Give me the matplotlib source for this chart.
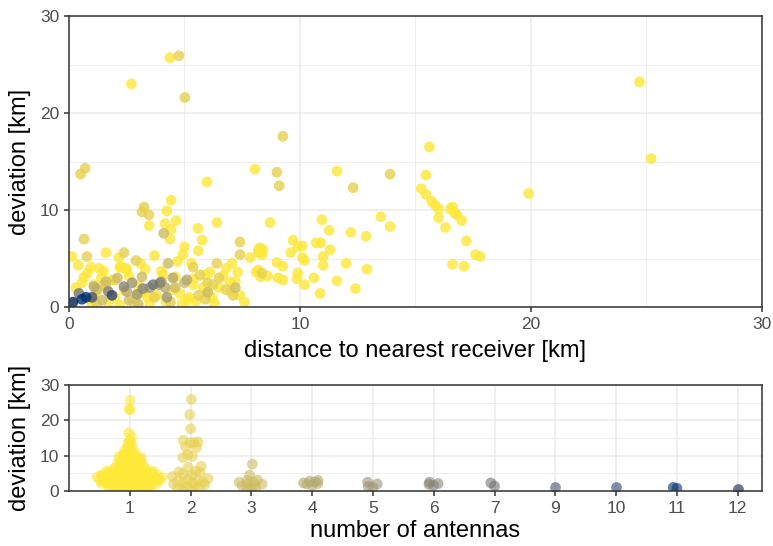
import numpy as np
import matplotlib
matplotlib.use("Agg")
import matplotlib.pyplot as plt
from matplotlib import colors

plt.rcParams['font.family'] = ['Liberation Sans', 'DejaVu Sans']

# distance to nearest receiver [km] / deviation [km], grouped by number of antennas
dist_1 = [4.37, 2.7, 15.6, 8.05, 11.6, 15.45, 5.97, 15.25, 19.9, 24.7, 25.2, 15.45, 15.7, 15.85,
          16.0, 16.0, 16.3, 16.5, 16.6, 16.7, 16.8, 17.0, 17.2, 17.6, 17.8, 16.6, 17.1,
          4.42, 4.24, 3.47, 4.63, 4.16, 4.42, 4.37, 5.58, 5.76, 6.4, 0.13, 1.6, 2.16, 2.2,
          2.5, 3.1, 0.95, 1.3, 2.25, 2.47, 0.65, 1.4, 1.86, 0.56, 1.08, 3.25, 2.9, 3.4,
          4.93, 7.84, 8.2, 5.3, 7.06, 7.3, 8.1, 4.07, 4.6, 5.9, 6.67, 6.97, 7.2, 5.37, 4.8,
          6.0, 5.15, 6.3, 7.6,
          8.7, 10.95, 11.26, 12.2, 12.86, 8.27, 8.4, 8.2, 8.35, 9.7, 9.9, 10.1, 9.6, 10.7,
          10.9, 11.3, 10.1, 10.2, 11.0, 11.0, 9.0, 9.26, 12.0, 12.9, 9.05, 9.26, 9.9, 9.87,
          10.6, 10.2, 11.6, 12.4, 10.87, 13.5, 13.9, 8.6, 8.3, 8.2,
          0.3, 0.9, 1.2, 1.7, 2.0, 2.4, 2.8, 3.0, 3.5, 3.8, 4.2, 4.5, 4.9, 5.2, 5.5, 5.8,
          6.2, 6.5, 7.0, 7.4, 0.8, 1.5, 2.6, 3.3, 4.0, 4.7, 5.4, 6.1, 6.8, 0.4, 5.0, 5.6,
          3.7, 1.0, 2.2]
dev_1 = [25.7, 23.0, 16.5, 14.2, 14.0, 13.6, 12.9, 12.2, 11.7, 23.2, 15.3, 11.6, 10.9, 10.5,
         10.1, 9.2, 8.2, 10.1, 10.3, 9.7, 9.5, 8.9, 6.8, 5.4, 5.2, 4.4, 4.2,
         11.0, 9.9, 8.4, 8.9, 8.6, 8.0, 7.0, 8.1, 6.9, 8.7, 5.2, 5.6, 5.1, 4.1,
         3.8, 4.5, 4.1, 4.0, 4.1, 4.0, 3.1, 3.0, 2.8, 2.5, 2.3, 1.5, 1.2, 1.0,
         5.4, 5.1, 5.9, 4.5, 4.5, 3.6, 3.6, 3.3, 3.1, 3.3, 3.2, 2.6, 2.6, 2.3, 1.4,
         1.5, 0.7, 0.4, 0.5,
         8.7, 9.0, 7.9, 7.7, 7.3, 6.1, 5.9, 5.6, 5.4, 6.9, 6.2, 6.3, 5.6, 6.6,
         6.6, 5.9, 5.1, 4.8, 5.2, 4.3, 4.6, 4.2, 4.5, 3.9, 3.0, 2.8, 3.5, 2.9,
         3.0, 2.3, 2.7, 1.9, 1.4, 9.3, 8.3, 3.2, 3.1, 3.8,
         2.0, 0.8, 1.5, 0.5, 1.0, 1.7, 0.5, 2.2, 0.4, 1.2, 0.6, 1.8, 0.4, 1.0, 0.6, 2.0,
         1.0, 2.0, 1.6, 1.2, 3.5, 3.7, 3.2, 3.9, 3.7, 4.7, 2.9, 3.6, 4.0, 4.3, 6.2, 5.8,
         5.3, 0.3, 0.2]

dist_2 = [4.76, 5.02, 9.26, 0.5, 0.7, 9.0, 9.1, 12.3, 13.9, 3.25, 3.16, 3.46, 0.65, 7.4, 7.4,
          2.38, 2.9, 5.37, 6.4, 5.67, 6.0, 6.23, 6.8, 7.1, 8.35, 1.5, 1.6, 5.6, 0.78, 3.7,
          2.0, 4.4, 5.9, 6.5, 1.2]
dev_2 = [25.9, 21.6, 17.6, 13.7, 14.3, 13.9, 12.5, 12.3, 13.7, 10.3, 9.8, 9.5, 7.0, 6.7, 5.4,
         5.6, 4.8, 4.1, 4.5, 3.3, 2.5, 2.3, 1.8, 1.2, 3.5, 2.3, 2.0, 1.2, 5.2, 1.0,
         2.8, 0.5, 0.8, 3.0, 0.4]

dist_3 = [4.1, 3.16, 4.29, 1.2, 1.43, 2.6, 4.6, 6.0, 1.6, 5.0, 3.0, 2.1, 7.2]
dev_3 = [7.6, 3.1, 4.5, 1.8, 0.7, 0.7, 2.0, 1.5, 2.6, 2.5, 0.3, 3.0, 2.0]

dist_4 = [3.9, 5.1, 4.0, 4.16, 1.08, 2.5, 4.5]
dev_4 = [2.3, 2.8, 2.6, 2.0, 2.1, 1.6, 3.0]

dist_5 = [2.73, 4.24, 2.95, 3.5]
dev_5 = [2.5, 1.0, 1.3, 2.0]

dist_6 = [2.38, 3.94, 1.7, 3.2]
dev_6 = [2.1, 2.5, 1.6, 1.9]

dist_7 = [3.64, 0.43]
dev_7 = [2.3, 1.4]

dist_9, dev_9 = [1.0], [1.0]
dist_10, dev_10 = [1.86], [1.2]
dist_11, dev_11 = [0.74, 0.56], [1.0, 0.8]
dist_12, dev_12 = [0.17], [0.5]

groups = [(1, dist_1, dev_1), (2, dist_2, dev_2), (3, dist_3, dev_3), (4, dist_4, dev_4),
          (5, dist_5, dev_5), (6, dist_6, dev_6), (7, dist_7, dev_7), (9, dist_9, dev_9),
          (10, dist_10, dev_10), (11, dist_11, dev_11), (12, dist_12, dev_12)]

dist = np.concatenate([d for _, d, _ in groups])
dev = np.concatenate([v for _, _, v in groups])
n_ant = np.concatenate([[n] * len(d) for n, d, _ in groups])

cmap = plt.get_cmap('cividis_r')
norm = colors.Normalize(1, 12)

fig = plt.figure(figsize=(7.73, 5.46), dpi=100)
ax1 = fig.add_axes([69 / 773, 1 - 307 / 546, 693 / 773, 291 / 546])
ax2 = fig.add_axes([69 / 773, 1 - 491 / 546, 693 / 773, 106 / 546])


def style(ax):
    ax.set_facecolor('white')
    for s in ax.spines.values():
        s.set_color('#333333')
        s.set_linewidth(1.1)
    ax.tick_params(colors='#333333', labelcolor='#4d4d4d', labelsize=12.5, length=3.6, width=1.1)
    ax.grid(which='major', color='#ebebeb', linewidth=1.1)
    ax.grid(which='minor', color='#ebebeb', linewidth=0.6)
    ax.tick_params(which='minor', length=0)
    ax.set_axisbelow(True)


# top panel
style(ax1)
ax1.scatter(dist, dev, c=n_ant, cmap=cmap, norm=norm, s=60, alpha=0.8, linewidths=0)
ax1.set_xlim(0, 30)
ax1.set_ylim(0, 30)
ax1.set_xticks([0, 10, 20, 30])
ax1.set_yticks([0, 10, 20, 30])
ax1.set_xticks([5, 15, 25], minor=True)
ax1.set_yticks([5, 15, 25], minor=True)
ax1.set_xlabel('distance to nearest receiver [km]', fontsize=17, labelpad=6)
ax1.set_ylabel('deviation [km]', fontsize=17, labelpad=6)

# bottom panel: quasirandom (van der Corput) spread of deviation per antenna count
style(ax2)
cats = [n for n, _, _ in groups]
n_max = max(len(v) for _, _, v in groups)


def vdc(n):
    out = []
    for i in range(1, n + 1):
        q, denom, x = i, 1, 0.0
        while q:
            denom *= 2
            q, r = divmod(q, 2)
            x += r / denom
        out.append(x)
    return np.array(out)


def quasi_offsets(y, width):
    n = len(y)
    if n < 2:
        return np.zeros(n)
    sd = np.std(y, ddof=1)
    iqr = np.subtract(*np.percentile(y, [75, 25])) / 1.34
    lo = min(sd, iqr) if iqr > 0 else sd
    bw = 0.9 * lo * n ** -0.2 if lo > 0 else 0.5
    dens = np.exp(-0.5 * ((y[:, None] - y[None, :]) / bw) ** 2).sum(axis=1)
    dens = dens / dens.max()
    ranks = np.argsort(np.argsort(y, kind='stable'))
    return (vdc(n)[ranks] - 0.5) * 2 * width * dens


for k, (n, d, v) in enumerate(groups):
    v = np.array(v, dtype=float)
    w = 0.55 * (len(v) / n_max) ** 0.35
    off = quasi_offsets(v, w)
    ax2.scatter(k + 1 + off, v, c=[n] * len(v), cmap=cmap, norm=norm, s=60, alpha=0.6,
                linewidths=0)
ax2.set_xlim(0, 11.4)
ax2.set_ylim(0, 30)
ax2.set_xticks(range(1, len(cats) + 1))
ax2.set_xticklabels([str(c) for c in cats])
ax2.set_yticks([0, 10, 20, 30])
ax2.set_yticks([5, 15, 25], minor=True)
ax2.set_xlabel('number of antennas', fontsize=17, labelpad=3)
ax2.set_ylabel('deviation [km]', fontsize=17, labelpad=6)

fig.savefig('out.png', dpi=100)
